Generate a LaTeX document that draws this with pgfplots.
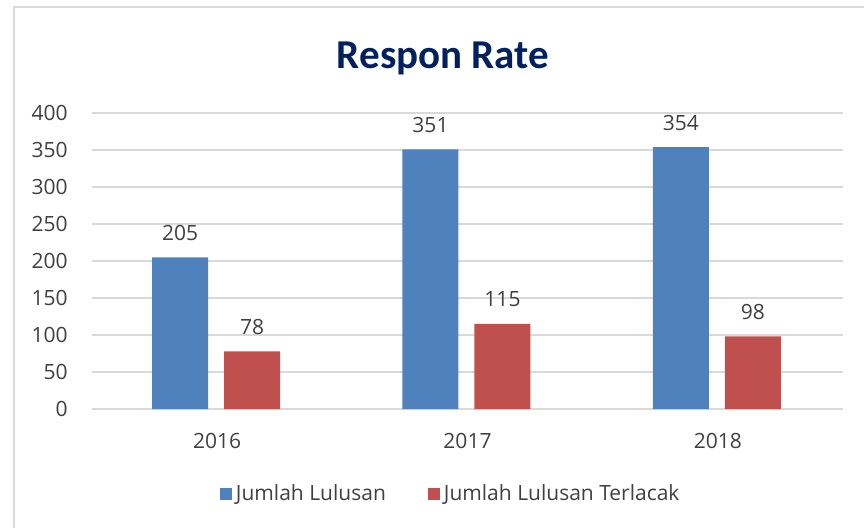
\documentclass[border=0pt]{standalone}
\usepackage{pgfplots}
\pgfplotsset{compat=1.18}
\usepackage{fontspec}
\setmainfont{Open Sans}
\newfontfamily\titlefont{Carlito}
\definecolor{cblue}{HTML}{4F81BD}
\definecolor{cred}{HTML}{C0504D}
\definecolor{ctitle}{HTML}{002060}
\definecolor{ctext}{HTML}{404040}
\definecolor{cgrid}{HTML}{D9D9D9}
\begin{document}
\begin{tikzpicture}
\useasboundingbox (0,0) rectangle (432pt,263.5pt);
\draw[cgrid, line width=1pt] (7pt,-5pt) -- (7pt,260pt) -- (440pt,260pt);
\node[text=ctitle, font=\titlefont\bfseries\fontsize{20.5}{24}\selectfont] at (221.5pt,234.5pt) {Respon Rate};
\begin{axis}[
  at={(46pt,59pt)}, anchor=south west,
  scale only axis, width=375.5pt, height=148pt,
  xmin=-0.5, xmax=2.5, ymin=0, ymax=400,
  xtick={0,1,2}, xticklabels={2016,2017,2018},
  ytick={0,50,...,400},
  ybar, bar width=28pt,
  axis line style={draw=none},
  major tick length=0pt,
  ymajorgrids, grid style={cgrid, line width=0.75pt},
  /pgf/number format/assume math mode=true,
  tick label style={text=ctext, font=\fontsize{10.5}{12}\selectfont},
  yticklabel style={anchor=east, inner sep=0pt, xshift=-12pt},
  xticklabel style={anchor=north, inner sep=0pt, yshift=-12pt},
  nodes near coords,
  every node near coord/.append style={text=ctext, font=\fontsize{10.5}{12}\selectfont, anchor=base, inner sep=0pt, yshift=8.5pt},
  legend columns=2,
  legend style={at={(0.479,-0.287)}, anchor=center, draw=none, fill=none,
    font=\fontsize{10.5}{12}\selectfont, text=ctext,
    /tikz/every even column/.append style={column sep=19pt},
    inner sep=0pt},
  legend cell align=left,
]
\draw[cgrid, line width=0.75pt] (axis cs:-0.5,0) -- (axis cs:2.5,0);
\addplot[fill=cblue, draw=none, bar shift=-18.5pt,
  legend image code/.code={\fill[cblue] (-1.5pt,-3.2pt) rectangle (4.5pt,3.2pt);}]
  coordinates {(0,205) (1,351) (2,354)};
\addplot[fill=cred, draw=none, bar shift=17.5pt,
  legend image code/.code={\fill[cred] (-1.5pt,-3.2pt) rectangle (4.5pt,3.2pt);}]
  coordinates {(0,78) (1,115) (2,98)};
\legend{Jumlah Lulusan, Jumlah Lulusan Terlacak}
\end{axis}
\end{tikzpicture}
\end{document}
